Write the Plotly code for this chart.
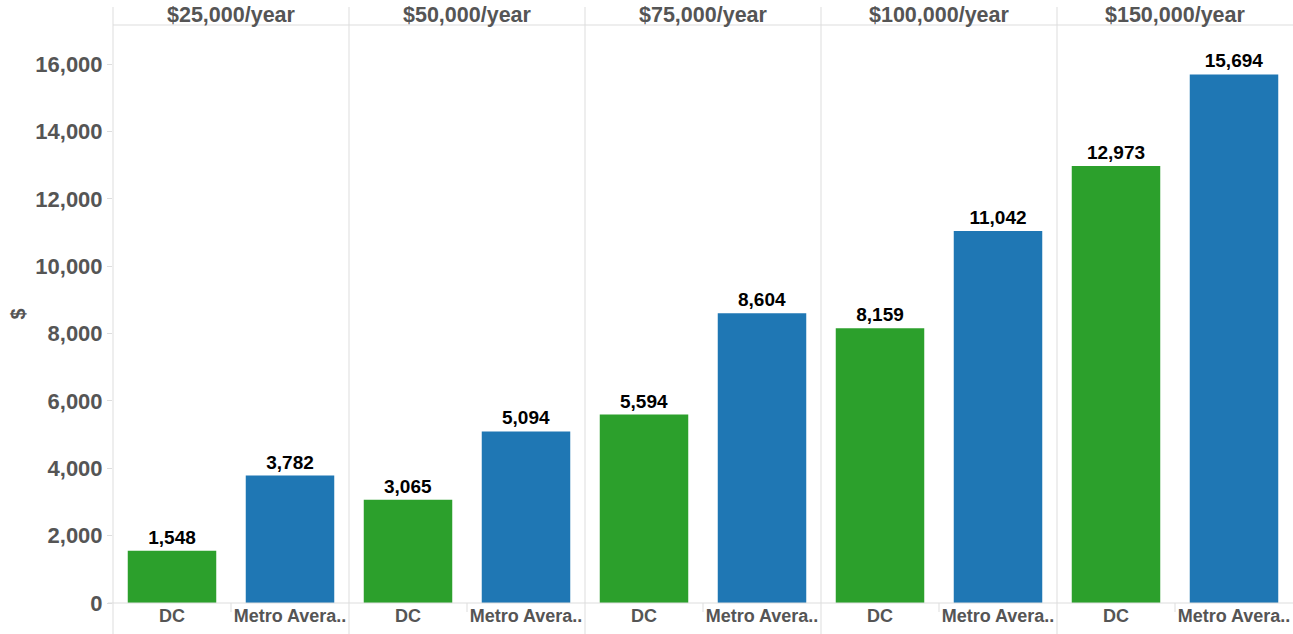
import plotly.graph_objects as go
from plotly.subplots import make_subplots

incomes = ["$25,000/year", "$50,000/year", "$75,000/year", "$100,000/year", "$150,000/year"]
categories = ["DC", "Metro Average"]
category_labels = ["DC", "Metro Avera.."]
dc_values = [1548, 3065, 5594, 8159, 12973]
metro_values = [3782, 5094, 8604, 11042, 15694]
y_ticks = [0, 2000, 4000, 6000, 8000, 10000, 12000, 14000, 16000]

GREEN = "#2ca02c"
BLUE = "#1f77b4"
GRAY = "#555555"
LINE = "#dddddd"
FONT = "Arial, Liberation Sans, sans-serif"

W, H = 1293, 634
ML, MR, MT, MB = 113, 0, 25, 31
PH = H - MT - MB

fig = make_subplots(rows=1, cols=5, shared_yaxes=True, horizontal_spacing=0,
                    subplot_titles=incomes)

for i in range(len(incomes)):
    vals = [dc_values[i], metro_values[i]]
    fig.add_trace(go.Bar(
        x=categories, y=vals,
        marker=dict(color=[GREEN, BLUE], line=dict(width=0)),
        width=0.75,
        text=[f"{v:,}" for v in vals],
        textposition="outside",
        constraintext="none",
        cliponaxis=False,
        textfont=dict(family=FONT, size=19, color="#000000", weight="bold"),
        showlegend=False,
        hoverinfo="x+y",
    ), row=1, col=i + 1)
    fig.update_xaxes(tickvals=categories, ticktext=category_labels,
                     showgrid=False, zeroline=False, showline=False, ticks="",
                     tickfont=dict(family=FONT, size=18, color=GRAY, weight="bold"),
                     row=1, col=i + 1)

fig.update_yaxes(range=[0, 17160], tickvals=y_ticks, tickformat=",",
                 showgrid=False, zeroline=False, showline=False,
                 ticks="outside", ticklen=5, tickcolor=LINE,
                 tickfont=dict(family=FONT, size=22, color=GRAY, weight="bold"),
                 row=1, col=1)
fig.update_yaxes(title=dict(text="$", standoff=4,
                            font=dict(family=FONT, size=20, color=GRAY, weight="bold")),
                 row=1, col=1)

# header annotations
for ann in fig.layout.annotations:
    ann.update(y=1 + (MT - 15) / PH, yanchor="middle",
               font=dict(family=FONT, size=21.5, color=GRAY, weight="bold"))

shapes = []
y_top = 1 + (MT - 7) / PH
y_bot = -MB / PH
for i in range(len(incomes)):
    xr = "x domain" if i == 0 else f"x{i + 1} domain"
    shapes.append(dict(type="line", xref=xr, yref="paper", x0=0, x1=0,
                       y0=y_bot, y1=y_top, line=dict(color=LINE, width=1)))
    shapes.append(dict(type="line", xref=xr, yref="paper", x0=0.5, x1=0.5,
                       y0=0, y1=-9 / PH, line=dict(color=LINE, width=1)))
shapes.append(dict(type="line", xref="paper", yref="paper", x0=0, x1=1,
                   y0=1, y1=1, line=dict(color=LINE, width=1)))
shapes.append(dict(type="line", xref="paper", yref="paper", x0=-5 / (W - ML - MR), x1=1,
                   y0=0, y1=0, line=dict(color=LINE, width=1)))

fig.update_layout(
    width=W, height=H,
    margin=dict(l=ML, r=MR, t=MT, b=MB, pad=0),
    plot_bgcolor="white", paper_bgcolor="white",
    bargap=0.25,
    shapes=shapes,
    font=dict(family=FONT, color=GRAY),
)

fig.write_html("out.html",
               config={"displayModeBar": False},
               post_script="document.body.style.margin='0';document.body.style.overflow='hidden';")
